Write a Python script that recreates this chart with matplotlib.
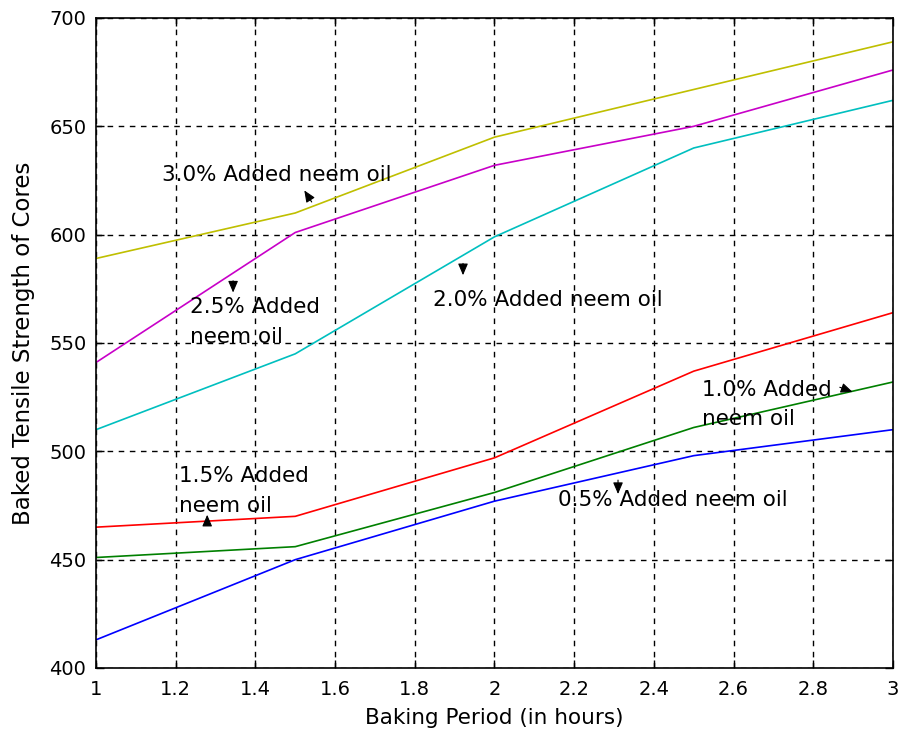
import matplotlib
matplotlib.use("Agg")
import matplotlib.pyplot as plt

baking_hours = [1.0, 1.5, 2.0, 2.5, 3.0]
oil_0_5 = [413, 450, 477, 498, 510]
oil_1_0 = [451, 456, 481, 511, 532]
oil_1_5 = [465, 470, 497, 537, 564]
oil_2_0 = [510, 545, 599, 640, 662]
oil_2_5 = [541, 601, 632, 650, 676]
oil_3_0 = [589, 610, 645, 667, 689]

x_ticks = [1, 1.2, 1.4, 1.6, 1.8, 2, 2.2, 2.4, 2.6, 2.8, 3]
x_tick_labels = ["1", "1.2", "1.4", "1.6", "1.8", "2", "2.2", "2.4", "2.6", "2.8", "3"]
y_ticks = [400, 450, 500, 550, 600, 650, 700]

plt.rcParams['font.family'] = ['DejaVu Sans']
fig = plt.figure(figsize=(8.99, 7.40), dpi=100)
ax = fig.add_axes([0.1068, 0.0973, 0.8865, 0.8784])

series = [
    (oil_3_0, "#bfbf00"),
    (oil_2_5, "#c800c8"),
    (oil_2_0, "#00bfbf"),
    (oil_1_5, "#ff0000"),
    (oil_1_0, "#008000"),
    (oil_0_5, "#0000ff"),
]
for vals, c in series:
    ax.plot(baking_hours, vals, color=c, lw=1.2)

ax.set_xlim(1, 3)
ax.set_ylim(400, 700)
ax.set_xticks(x_ticks)
ax.set_xticklabels(x_tick_labels)
ax.set_yticks(y_ticks)
ax.grid(True, color="black", linestyle=(0, (4, 4)), lw=1.0)
ax.tick_params(direction="in", top=True, right=True, labelsize=14, length=6, width=1)
ax.tick_params(axis="x", pad=9)
ax.tick_params(axis="y", pad=7)
for s in ax.spines.values():
    s.set_linewidth(1.2)
ax.set_xlabel("Baking Period (in hours)", fontsize=15.5, labelpad=6)
ax.set_ylabel("Baked Tensile Strength of Cores", fontsize=16.5, labelpad=10)

fs = 15.5
ls = 1.6
ann = dict(arrowstyle="-|>,head_length=0.7,head_width=0.3", color="black", lw=0.8)

ax.text(1.166, 627.5, "3.0% Added neem oil", fontsize=fs, va="center", ha="left")
ax.annotate("", xy=(1.519, 621.5), xytext=(1.545, 614), arrowprops=ann)

ax.text(1.236, 571, "2.5% Added\nneem oil", fontsize=fs, va="top", ha="left", linespacing=ls)
ax.annotate("", xy=(1.344, 572), xytext=(1.344, 580), arrowprops=ann)

ax.text(1.846, 570, "2.0% Added neem oil", fontsize=fs, va="center", ha="left")
ax.annotate("", xy=(1.921, 580), xytext=(1.921, 588), arrowprops=ann)

ax.text(1.208, 493, "1.5% Added\nneem oil", fontsize=fs, va="top", ha="left", linespacing=ls)
ax.annotate("", xy=(1.279, 472), xytext=(1.279, 465), arrowprops=ann)

ax.text(2.52, 533, "1.0% Added\nneem oil", fontsize=fs, va="top", ha="left", linespacing=ls)
ax.annotate("", xy=(2.905, 527), xytext=(2.86, 530), arrowprops=ann)

ax.text(2.159, 477.5, "0.5% Added neem oil", fontsize=fs, va="center", ha="left")
ax.annotate("", xy=(2.31, 479), xytext=(2.31, 488), arrowprops=ann)

fig.savefig("out.png", dpi=100)
